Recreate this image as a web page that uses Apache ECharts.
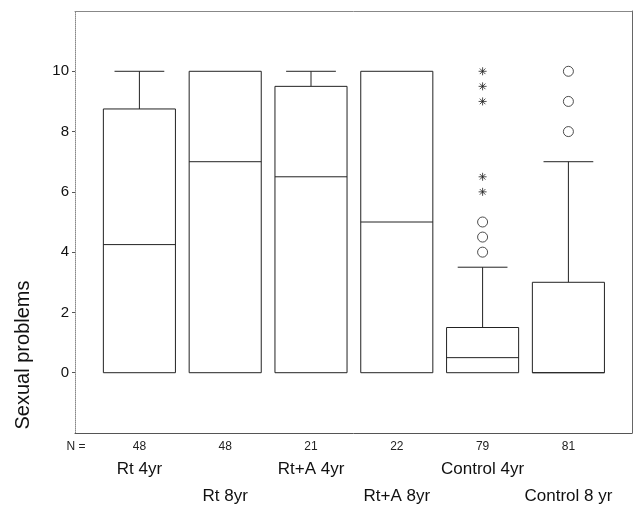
<!DOCTYPE html>
<html>
<head>
<meta charset="utf-8">
<script src="https://cdn.jsdelivr.net/npm/echarts@6/dist/echarts.min.js"></script>
<style>
  html, body { margin: 0; padding: 0; background: #fff; }
  #chart { width: 636px; height: 507px; }
</style>
</head>
<body>
<div id="chart"></div>
<script>
// groups + box stats
var groups = ['Rt 4yr', 'Rt 8yr', 'Rt+A 4yr', 'Rt+A 8yr', 'Control 4yr', 'Control 8 yr'];
var counts = [48, 48, 21, 22, 79, 81];
var lowWhisker = [0, 0, 0, 0, 0, 0];
var q1 = [0, 0, 0, 0, 0, 0];
var medians = [4.25, 7, 6.5, 5, 0.5, 0];
var q3 = [8.75, 10, 9.5, 10, 1.5, 3];
var highWhisker = [10, 10, 10, 10, 3.5, 7];
// outliers: [group index, value]
var circleOutliers = [[4, 4], [4, 4.5], [4, 5], [5, 8], [5, 9], [5, 10]];
var starOutliers = [[4, 6], [4, 6.5], [4, 9], [4, 9.5], [4, 10]];
var yTicks = [0, 2, 4, 6, 8, 10];

var lineColor = '#222';
var frameColor = '#888';
var font = 'Liberation Sans, Arial, sans-serif';

var boxData = groups.map(function (g, i) {
    return [i, lowWhisker[i], q1[i], medians[i], q3[i], highWhisker[i]];
});

function renderBox(params, api) {
    var i = api.value(0);
    var band = api.size([1, 0])[0];
    var half = band * 0.42;
    var capHalf = band * 0.29;
    var low = api.coord([i, api.value(1)]);
    var lo = api.coord([i, api.value(2)]);
    var med = api.coord([i, api.value(3)]);
    var hi = api.coord([i, api.value(4)]);
    var top = api.coord([i, api.value(5)]);
    var x = lo[0];
    var st = { stroke: lineColor, lineWidth: 1, fill: null };
    var kids = [];
    if (top[1] < hi[1]) {
        kids.push({ type: 'line', shape: { x1: x, y1: hi[1], x2: x, y2: top[1] }, style: st });
        kids.push({ type: 'line', shape: { x1: x - capHalf, y1: top[1], x2: x + capHalf, y2: top[1] }, style: st });
    }
    if (low[1] > lo[1]) {
        kids.push({ type: 'line', shape: { x1: x, y1: lo[1], x2: x, y2: low[1] }, style: st });
        kids.push({ type: 'line', shape: { x1: x - capHalf, y1: low[1], x2: x + capHalf, y2: low[1] }, style: st });
    }
    kids.push({ type: 'rect', shape: { x: x - half, y: hi[1], width: half * 2, height: lo[1] - hi[1] },
                style: { stroke: lineColor, lineWidth: 1, fill: '#fff' } });
    kids.push({ type: 'line', shape: { x1: x - half, y1: med[1], x2: x + half, y2: med[1] }, style: st });
    return { type: 'group', children: kids };
}

var chart = echarts.init(document.getElementById('chart'));

chart.setOption({
    backgroundColor: '#fff',
    animation: false,
    textStyle: { fontFamily: font },
    grid: [
        { left: 75, right: 4, top: 11, bottom: 74 },
        { left: 96.5, right: 24.7, top: 11, bottom: 74 }
    ],
    xAxis: [
        { gridIndex: 0, type: 'value', min: 0, max: 1, position: 'bottom',
          axisLine: { onZero: false, lineStyle: { color: '#555' } }, axisTick: { show: false },
          axisLabel: { show: false }, splitLine: { show: false } },
        { gridIndex: 0, type: 'value', min: 0, max: 1, position: 'top',
          axisLine: { onZero: false, lineStyle: { color: frameColor } }, axisTick: { show: false },
          axisLabel: { show: false }, splitLine: { show: false } },
        { gridIndex: 1, type: 'category', data: groups, position: 'bottom',
          axisLine: { show: false, onZero: false },
          axisTick: { alignWithLabel: true, length: 4, lineStyle: { color: '#333' } },
          axisLabel: { interval: 0, margin: 8, fontSize: 12, color: '#222',
                       formatter: function (v, i) { return String(counts[i]); } } },
        { gridIndex: 1, type: 'category', data: groups, position: 'bottom',
          axisLine: { show: false, onZero: false }, axisTick: { show: false },
          axisLabel: { interval: 0, margin: 28, fontSize: 17, color: '#111',
                       formatter: function (v, i) { return i % 2 === 0 ? v : ''; } } },
        { gridIndex: 1, type: 'category', data: groups, position: 'bottom',
          axisLine: { show: false, onZero: false }, axisTick: { show: false },
          axisLabel: { interval: 0, margin: 55, fontSize: 17, color: '#111',
                       formatter: function (v, i) { return i % 2 === 1 ? v : ''; } } }
    ],
    yAxis: [
        { gridIndex: 0, type: 'value', min: -2, max: 12, position: 'left',
          axisLine: { show: true, onZero: false, lineStyle: { color: frameColor, type: 'dotted' } },
          axisTick: { show: true, length: 3, customValues: yTicks, lineStyle: { color: '#555' } },
          axisLabel: { customValues: yTicks, fontSize: 15, color: '#111', margin: 6 },
          splitLine: { show: false } },
        { gridIndex: 0, type: 'value', min: -2, max: 12, position: 'right',
          axisLine: { show: true, onZero: false, lineStyle: { color: '#666' } }, axisTick: { show: false },
          axisLabel: { show: false }, splitLine: { show: false } },
        { gridIndex: 1, type: 'value', min: -2, max: 12, show: false, splitLine: { show: false } }
    ],
    graphic: [
        { type: 'text', x: 76, y: 447,
          style: { text: 'N =', fontSize: 12, fontFamily: font, fill: '#222',
                   textAlign: 'center', textVerticalAlign: 'middle' } },
        { type: 'text', x: 23, y: 355, rotation: Math.PI / 2,
          style: { text: 'Sexual problems', fontSize: 20, fontFamily: font, fill: '#111',
                   textAlign: 'center', textVerticalAlign: 'middle' } }
    ],
    series: [
        { type: 'custom', xAxisIndex: 2, yAxisIndex: 2, renderItem: renderBox,
          encode: { x: 0, y: [1, 2, 3, 4, 5] }, data: boxData },
        { type: 'scatter', xAxisIndex: 2, yAxisIndex: 2, data: circleOutliers,
          symbol: 'circle', symbolSize: 10,
          itemStyle: { color: '#fff', borderColor: lineColor, borderWidth: 1 } },
        { type: 'scatter', xAxisIndex: 2, yAxisIndex: 2, data: starOutliers,
          symbol: 'path://M5,0L5,10M1.5,1.5L8.5,8.5M1.5,8.5L8.5,1.5M0,5L10,5', symbolSize: 8,
          itemStyle: { color: 'none', borderColor: lineColor, borderWidth: 1 } }
    ]
});
</script>
</body>
</html>
